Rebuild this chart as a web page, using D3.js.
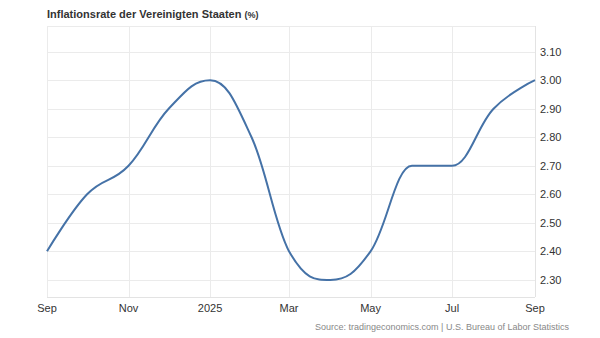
<!DOCTYPE html>
<html><head><meta charset="utf-8">
<script src="https://cdn.jsdelivr.net/npm/d3@7"></script>
<style>body{margin:0;background:#fff;font-family:"Liberation Sans",Arial,sans-serif}</style>
</head><body><svg id="c" width="600" height="338"></svg>
<script>
const months = ["2024-09","2024-10","2024-11","2024-12","2025-01","2025-02","2025-03","2025-04","2025-05","2025-06","2025-07","2025-08","2025-09"];
const values = [2.4,2.6,2.7,2.9,3.0,2.8,2.4,2.3,2.4,2.7,2.7,2.9,3.0];
const yTicks = [2.3,2.4,2.5,2.6,2.7,2.8,2.9,3.0,3.1];
const xTickDates = ["2024-09","2024-11","2025-01","2025-03","2025-05","2025-07","2025-09"];
const xTickLabels = ["Sep","Nov","2025","Mar","May","Jul","Sep"];
const title = "Inflationsrate der Vereinigten Staaten";
const unit = "(%)";
const source = "Source: tradingeconomics.com | U.S. Bureau of Labor Statistics";

const parse = d3.timeParse("%Y-%m");
const data = months.map((m,i)=>({date:parse(m), v:values[i]}));
const svg = d3.select("#c");
const L=47, R=535, T=26, B=297;
const x = d3.scaleTime().domain([parse(months[0]), parse(months[months.length-1])]).range([L,R]);
const y = d3.scaleLinear().domain([2.24,3.19]).range([B,T]);

// grid
svg.append("g").selectAll("line").data(yTicks).join("line")
  .attr("x1",L).attr("x2",R).attr("y1",d=>Math.round(y(d))+0.5).attr("y2",d=>Math.round(y(d))+0.5)
  .attr("stroke","#ebebeb").attr("stroke-width",1);
svg.append("g").selectAll("line").data(xTickDates).join("line")
  .attr("x1",d=>Math.round(x(parse(d)))+0.5).attr("x2",d=>Math.round(x(parse(d)))+0.5).attr("y1",T).attr("y2",B)
  .attr("stroke","#ebebeb").attr("stroke-width",1);
svg.append("line").attr("x1",L).attr("x2",R).attr("y1",T+0.5).attr("y2",T+0.5).attr("stroke","#ebebeb");
svg.append("line").attr("x1",L).attr("x2",R).attr("y1",B+0.5).attr("y2",B+0.5).attr("stroke","#e3e3e3");
svg.append("line").attr("x1",R+0.5).attr("x2",R+0.5).attr("y1",T).attr("y2",B).attr("stroke","#e3e3e3");

// y labels
svg.append("g").selectAll("text").data(yTicks).join("text")
  .attr("x",R+5).attr("y",d=>y(d)+4).attr("font-size",11).attr("fill","#333")
  .text(d=>d3.format(".2f")(d));
// x labels
svg.append("g").selectAll("text").data(xTickDates).join("text")
  .attr("x",d=>x(parse(d))).attr("y",312).attr("text-anchor","middle").attr("font-size",11).attr("fill","#333")
  .text((d,i)=>xTickLabels[i]);

// Highcharts-style spline curve built with d3.path
function splinePath(pts){
  const sm=1.5, den=sm+1, p=d3.path();
  const cont = pts.map(()=>({}));
  pts.forEach((pt,i)=>{
    if(i===0||i===pts.length-1) return;
    const [px,py]=pt, [lx,ly]=pts[i-1], [nx,ny]=pts[i+1];
    let lcx=(sm*px+lx)/den, lcy=(sm*py+ly)/den, rcx=(sm*px+nx)/den, rcy=(sm*py+ny)/den;
    if(rcx!==lcx){
      const corr=((rcy-lcy)*(rcx-px))/(rcx-lcx)+py-rcy;
      lcy+=corr; rcy+=corr;
      if(lcy>ly&&lcy>py){lcy=Math.max(ly,py);rcy=2*py-lcy;}
      else if(lcy<ly&&lcy<py){lcy=Math.min(ly,py);rcy=2*py-lcy;}
      if(rcy>ny&&rcy>py){rcy=Math.max(ny,py);lcy=2*py-rcy;}
      else if(rcy<ny&&rcy<py){rcy=Math.min(ny,py);lcy=2*py-rcy;}
    }
    cont[i]={lcx,lcy,rcx,rcy};
  });
  pts.forEach((pt,i)=>{
    if(i===0){p.moveTo(pt[0],pt[1]);return;}
    const prev=pts[i-1], pc=cont[i-1], c=cont[i];
    p.bezierCurveTo(pc.rcx??prev[0], pc.rcy??prev[1], c.lcx??pt[0], c.lcy??pt[1], pt[0], pt[1]);
  });
  return p.toString();
}
const pts = data.map(d=>[x(d.date), y(d.v)]);
svg.append("path").attr("d",splinePath(pts)).attr("fill","none").attr("stroke","#4572a7").attr("stroke-width",2);

// title
const t = svg.append("text").attr("x",47).attr("y",18).attr("fill","#333");
t.append("tspan").attr("font-size",11).attr("font-weight","bold").text(title);
t.append("tspan").attr("font-size",9).attr("font-weight","bold").attr("dx",3).text(unit);
// source
svg.append("text").attr("x",569).attr("y",330).attr("text-anchor","end").attr("font-size",9).attr("fill","#888").text(source);
</script></body></html>
